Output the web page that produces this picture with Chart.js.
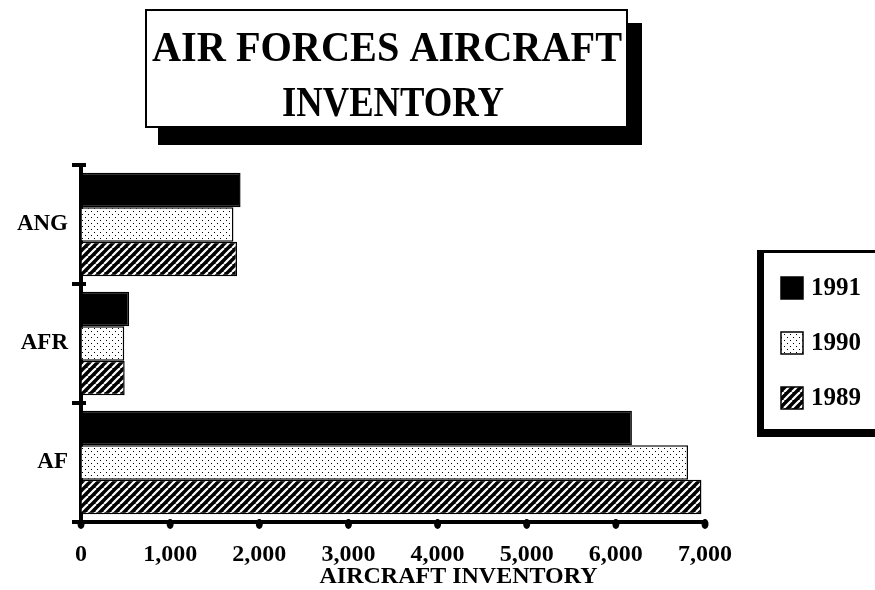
<!DOCTYPE html>
<html>
<head>
<meta charset="utf-8">
<script src="https://cdnjs.cloudflare.com/ajax/libs/Chart.js/4.4.1/chart.umd.min.js"></script>
<style>
  html, body { margin: 0; padding: 0; background: #fff; }
</style>
</head>
<body>
<canvas id="inventory" width="875" height="590"></canvas>
<script>
// data
var commands = ['ANG', 'AFR', 'AF'];
var years = ['1991', '1990', '1989'];
var inv1991 = [1790, 540, 6180];
var inv1990 = [1710, 485, 6810];
var inv1989 = [1750, 490, 6960];
var xTicks = [0, 1000, 2000, 3000, 4000, 5000, 6000, 7000];
var titleLines = ['AIR FORCES AIRCRAFT', 'INVENTORY'];
var axisTitle = 'AIRCRAFT INVENTORY';

var SERIF = '"Liberation Serif", "Times New Roman", serif';
var canvas = document.getElementById('inventory');
var ctx = canvas.getContext('2d');

function dotPattern() {
  var c = document.createElement('canvas');
  c.width = 6; c.height = 6;
  var g = c.getContext('2d');
  g.fillStyle = '#fff';
  g.fillRect(0, 0, 6, 6);
  g.fillStyle = '#000';
  g.fillRect(1, 1, 1, 1);
  g.fillRect(4, 4, 1, 1);
  return ctx.createPattern(c, 'repeat');
}

function hatchPattern() {
  var c = document.createElement('canvas');
  c.width = 8; c.height = 8;
  var g = c.getContext('2d');
  g.fillStyle = '#000';
  g.fillRect(0, 0, 8, 8);
  g.strokeStyle = '#fff';
  g.lineWidth = 2.2;
  [-8, 0, 8].forEach(function (k) {
    g.beginPath();
    g.moveTo(k, 8);
    g.lineTo(k + 8, 0);
    g.stroke();
  });
  return ctx.createPattern(c, 'repeat');
}

var fills = ['#000', dotPattern(), hatchPattern()];
var series = [inv1991, inv1990, inv1989];

// draws text squeezed to a given width
function fitText(g, text, cx, baseline, width, font) {
  g.save();
  g.font = font;
  var w = g.measureText(text).width;
  var sx = Math.min(1, width / w);
  g.translate(cx, baseline);
  g.scale(sx, 1);
  g.textAlign = 'center';
  g.textBaseline = 'alphabetic';
  g.fillText(text, 0, 0);
  g.restore();
}

var decorations = {
  id: 'decorations',
  afterDraw: function (chart) {
    var g = chart.ctx;
    var area = chart.chartArea;
    var xs = chart.scales.x, ys = chart.scales.y;
    g.save();
    g.fillStyle = '#000';

    // title box with drop shadow
    g.fillRect(158, 23, 484, 122);
    g.fillStyle = '#fff';
    g.fillRect(146, 10, 481, 117);
    g.strokeStyle = '#000';
    g.lineWidth = 2;
    g.strokeRect(146, 10, 481, 117);
    g.fillStyle = '#000';
    fitText(g, titleLines[0], 387, 61, 470, 'bold 43px ' + SERIF);
    fitText(g, titleLines[1], 393, 116, 222, 'bold 43px ' + SERIF);

    // x axis tick dots
    xs.ticks.forEach(function (t) {
      var px = xs.getPixelForValue(t.value);
      g.beginPath();
      g.ellipse(px, area.bottom + 2, 3.5, 5, 0, 0, Math.PI * 2);
      g.fill();
    });
    // y axis tick marks at category boundaries
    var n = commands.length;
    for (var i = 0; i <= n; i++) {
      var py = ys.top + i * (ys.height / n);
      g.fillRect(area.left - 9, py - 2, 14, 4);
    }

    // axis title
    g.font = 'bold 24px ' + SERIF;
    g.textAlign = 'center';
    g.textBaseline = 'middle';
    g.fillText(axisTitle, area.left + area.width * 0.605, 577);

    // legend box
    g.fillStyle = '#000';
    g.fillRect(757, 250, 130, 187);
    g.fillStyle = '#fff';
    g.fillRect(764, 253, 120, 176);
    chart.data.datasets.forEach(function (ds, k) {
      var cy = 288 + k * 55;
      g.fillStyle = ds.backgroundColor;
      g.fillRect(781, cy - 11, 22, 22);
      g.strokeStyle = '#000';
      g.lineWidth = 1.5;
      g.strokeRect(781, cy - 11, 22, 22);
      g.fillStyle = '#000';
      g.font = 'bold 25px ' + SERIF;
      g.textAlign = 'left';
      g.textBaseline = 'middle';
      g.fillText(ds.label, 811, cy + 1);
    });
    g.restore();
  }
};

new Chart(ctx, {
  type: 'bar',
  data: {
    labels: commands,
    datasets: years.map(function (y, k) {
      return {
        label: y,
        data: series[k],
        backgroundColor: fills[k],
        borderColor: '#000',
        borderWidth: 1.5,
        categoryPercentage: 0.87,
        barPercentage: 1
      };
    })
  },
  options: {
    indexAxis: 'y',
    responsive: false,
    animation: false,
    devicePixelRatio: 1,
    layout: { padding: { top: 165, right: 170, left: 0, bottom: 0 } },
    plugins: {
      legend: { display: false },
      title: { display: false },
      tooltip: { enabled: false }
    },
    scales: {
      x: {
        type: 'linear',
        min: 0,
        max: 7000,
        z: 1,
        afterFit: function (s) { s.height = 68; },
        afterBuildTicks: function (s) { s.ticks = xTicks.map(function (v) { return { value: v }; }); },
        ticks: {
          color: '#000',
          padding: 18,
          maxRotation: 0,
          font: { family: SERIF, size: 24, weight: 'bold' },
          callback: function (v) { return Number(v).toLocaleString('en-US'); }
        },
        grid: { display: true, drawOnChartArea: false, drawTicks: false },
        border: { display: true, width: 4, color: '#000' }
      },
      y: {
        z: 1,
        afterFit: function (s) { s.width = 81; },
        ticks: {
          color: '#000',
          padding: 13,
          font: { family: SERIF, size: 23, weight: 'bold' }
        },
        grid: { display: true, offset: true, drawOnChartArea: false, drawTicks: false },
        border: { display: true, width: 4, color: '#000' }
      }
    }
  },
  plugins: [decorations]
});
</script>
</body>
</html>
